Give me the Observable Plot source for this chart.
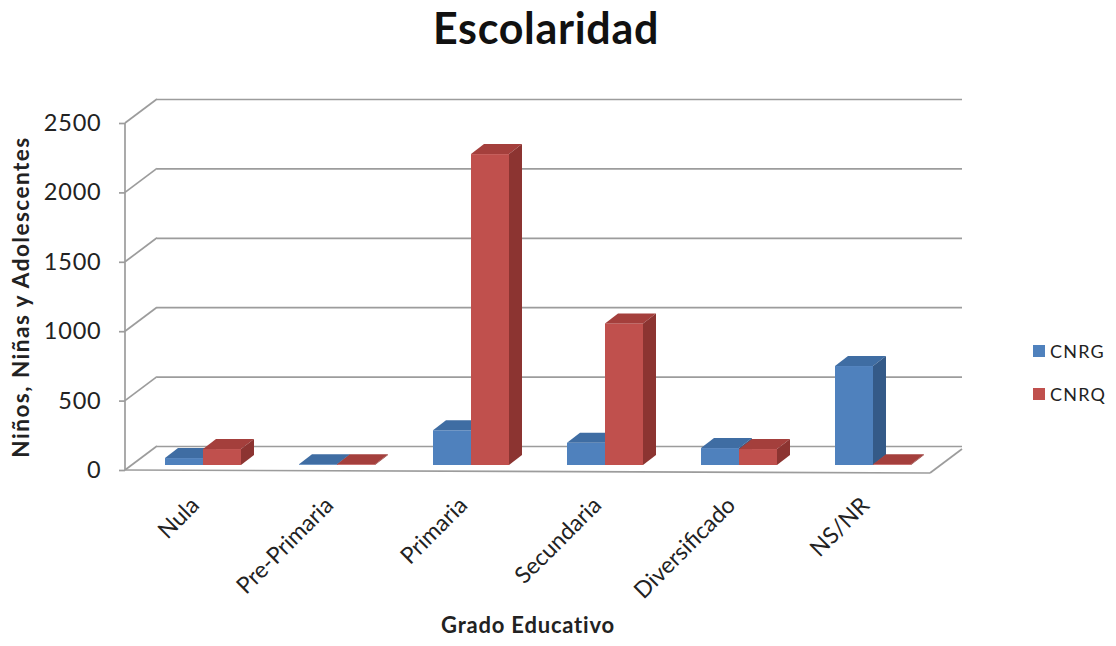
<!DOCTYPE html>
<html>
<head>
<meta charset="utf-8">
<script src="https://cdn.jsdelivr.net/npm/d3@7"></script>
<script src="https://cdn.jsdelivr.net/npm/@observablehq/plot@0.6"></script>
<style>
  html, body { margin: 0; padding: 0; background: #fff; }
  #wrap { position: relative; width: 1116px; height: 646px; overflow: hidden; font-family: Lato, "Open Sans", sans-serif; }
  #title { position: absolute; left: 0; top: 2px; width: 1092px; text-align: center; font: bold 43px Lato, sans-serif; color: #111; letter-spacing: 0.7px; }
  #chart { position: absolute; left: 0; top: 0; }
  #legend { position: absolute; left: 1033px; top: 338px; font: 18px Lato, sans-serif; color: #222; letter-spacing: 1.2px; }
  #legend .item { display: flex; align-items: center; height: 26px; margin-bottom: 17px; }
  #legend .sw { width: 12px; height: 12px; margin-right: 5px; }
  g[aria-label="y-axis label"] text { font-weight: bold; font-size: 22.5px; letter-spacing: 1.5px; }
  g[aria-label="x-axis label"] text { font-weight: bold; font-size: 22px; letter-spacing: 0.8px; }
  g[aria-label="y-axis tick label"] text { letter-spacing: 0.8px; }
</style>
</head>
<body>
<div id="wrap">
  <div id="chart"></div>
  <div id="title">Escolaridad</div>
  <div id="legend"></div>
</div>
<script>
// ---- data ----
const categories = ["Nula", "Pre-Primaria", "Primaria", "Secundaria", "Diversificado", "NS/NR"];
const seriesNames = ["CNRG", "CNRQ"];
const cnrgValues = [50, 5, 250, 160, 122, 713];
const cnrqValues = [115, 5, 2240, 1020, 115, 5];
const yTicks = [0, 500, 1000, 1500, 2000, 2500];

// ---- styling ----
const colors = {
  CNRG: {front: "#4F81BD", top: "#3F6DA3", side: "#345A88"},
  CNRQ: {front: "#C0504D", top: "#A43F3C", side: "#8C3431"}
};
const GRID = "#9c9c9c";
const DX = 32, DY = -24;      // depth of the 3D back wall
const BDX = 13, BDY = -10;    // depth of each bar

const rows = (name, vals) => categories.map((c, i) => ({cat: c, series: name, value: vals[i]}));
const dataG = rows("CNRG", cnrgValues);
const dataQ = rows("CNRQ", cnrqValues);

function bandwidthOf(scales) {
  const x = scales.x;
  if (x && typeof x.bandwidth === "function") return x.bandwidth();
  return scales.scales.x.bandwidth;
}

function bar3d(data, name, shift) {
  const c = colors[name];
  return Plot.barY(data, {
    x: "cat", y: "value", fill: c.front, dx: shift, dy: -5,
    render(index, scales, values, dimensions, context, next) {
      const g = next(index, scales, values, dimensions, context);
      const bw = bandwidthOf(scales);
      const sel = d3.select(g);
      for (const i of index) {
        const x0 = values.x[i], x1 = x0 + bw;
        const yt = Math.min(values.y1[i], values.y2[i]);
        const yb = Math.max(values.y1[i], values.y2[i]);
        sel.append("polygon")
          .attr("points", [[x0, yt], [x1, yt], [x1 + BDX, yt + BDY], [x0 + BDX, yt + BDY]].join(" "))
          .attr("fill", c.top);
        sel.append("polygon")
          .attr("points", [[x1, yt], [x1 + BDX, yt + BDY], [x1 + BDX, yb + BDY], [x1, yb]].join(" "))
          .attr("fill", c.side);
      }
      return g;
    }
  });
}

function frame3d(index, scales, values, dimensions) {
  const L = dimensions.marginLeft;
  const R = dimensions.width - dimensions.marginRight;
  const y0 = scales.y(0), yTop = scales.y(d3.max(yTicks));
  const g = d3.create("svg:g").attr("stroke", GRID).attr("stroke-width", 1.7).attr("fill", "none");
  for (const t of yTicks) {
    const y = scales.y(t);
    g.append("line").attr("x1", L).attr("y1", y).attr("x2", L + DX).attr("y2", y + DY);
  }
  g.append("line").attr("x1", L).attr("y1", yTop).attr("x2", L).attr("y2", y0);
  g.append("line").attr("x1", L).attr("y1", y0).attr("x2", R).attr("y2", y0 + 3);
  g.append("line").attr("x1", R).attr("y1", y0 + 3).attr("x2", R + DX).attr("y2", y0 + DY + 3);
  return g.node();
}

const chart = Plot.plot({
  width: 1000,
  height: 646,
  marginTop: 123,
  marginBottom: 176,
  marginLeft: 125,
  marginRight: 70,
  style: {fontFamily: "Lato, sans-serif", fontSize: "20px", color: "#222", background: "transparent", overflow: "visible"},
  x: {domain: categories, range: [136, 940], paddingInner: 0.716, paddingOuter: 0.358, label: null},
  y: {domain: [0, 2500], label: null},
  marks: [
    Plot.ruleY(yTicks, {dx: DX, dy: DY, stroke: GRID, strokeWidth: 1.7}),
    frame3d,
    bar3d(dataG, "CNRG", -19),
    bar3d(dataQ, "CNRQ", 19),
    Plot.axisY({
      ticks: yTicks, tickSize: 6, tickPadding: 18, stroke: GRID, strokeWidth: 1.7,
      tickFormat: d => String(d), fontSize: 23.5,
      label: "Niños, Niñas y Adolescentes", labelAnchor: "center", labelArrow: "none", labelOffset: 112
    }),
    Plot.axisX({
      tickRotate: -45, tickSize: 0, tickPadding: 31, dx: -8, fontSize: 23,
      label: "Grado Educativo", labelAnchor: "center", labelArrow: "none", labelOffset: 162
    })
  ]
});
document.getElementById("chart").appendChild(chart);

const legend = document.getElementById("legend");
for (const s of seriesNames) {
  const item = document.createElement("div");
  item.className = "item";
  const sw = document.createElement("span");
  sw.className = "sw";
  sw.style.background = colors[s].front;
  const t = document.createElement("span");
  t.textContent = s;
  item.appendChild(sw);
  item.appendChild(t);
  legend.appendChild(item);
}
</script>
</body>
</html>
